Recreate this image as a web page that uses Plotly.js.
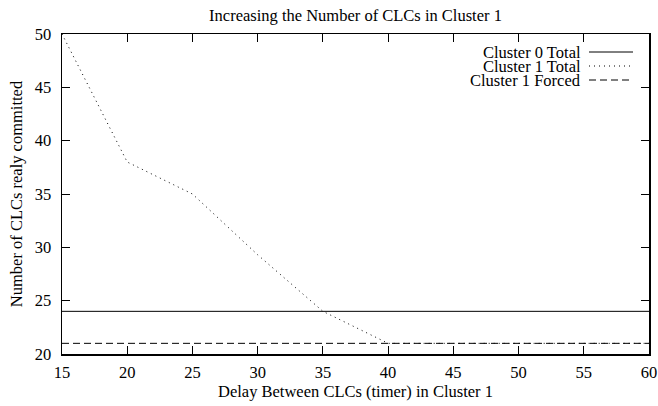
<!DOCTYPE html>
<html>
<head>
<meta charset="utf-8">
<script src="https://cdn.plot.ly/plotly-3.0.1.min.js"></script>
<style>html,body{margin:0;padding:0;background:#fff;}#chart{width:658px;height:406px;}</style>
</head>
<body>
<div id="chart"></div>
<script>
var delays = [15, 20, 25, 30, 35, 40, 45, 50, 55, 60];
var cluster0Total = [24, 24, 24, 24, 24, 24, 24, 24, 24, 24];
var cluster1Total = [50, 38, 35, 29.3, 24, 21, 21, 21, 21, 21];
var cluster1Forced = [21, 21, 21, 21, 21, 21, 21, 21, 21, 21];
var seriesNames = ["Cluster 0 Total", "Cluster 1 Total", "Cluster 1 Forced"];
var seriesDash = ["solid", "1px,4px", "7px,4px"];

var font = "'Liberation Serif', 'Times New Roman', serif";
var fs = 16.5;
var seriesValues = [cluster0Total, cluster1Total, cluster1Forced];
var traces = seriesValues.map(function (vals, i) {
  return {
    x: delays, y: vals, name: seriesNames[i], type: "scatter", mode: "lines",
    line: {color: "#000", width: 1, dash: seriesDash[i]}, showlegend: false
  };
});

var annotations = [];
var shapes = [];
var rowY = [52, 66, 80];
seriesNames.forEach(function (n, i) {
  annotations.push({
    xref: "paper", yref: "paper", x: (582 - 62) / 587, y: 1 - (rowY[i] - 34) / 320,
    xanchor: "right", yanchor: "middle", text: n, showarrow: false,
    font: {family: font, size: fs, color: "#000"}, borderpad: 0
  });
  shapes.push({
    type: "line", xref: "paper", yref: "paper",
    x0: (589 - 62) / 587, x1: (633 - 62) / 587,
    y0: 1 - (rowY[i] - 34) / 320, y1: 1 - (rowY[i] - 34) / 320,
    line: {color: "#000", width: 1, dash: seriesDash[i]}
  });
});

var layout = {
  width: 658, height: 406,
  margin: {l: 62, r: 9, t: 34, b: 52},
  paper_bgcolor: "#fff", plot_bgcolor: "#fff",
  font: {family: font, size: fs, color: "#000"},
  title: {text: "Increasing the Number of CLCs in Cluster 1", font: {family: font, size: fs, color: "#000"},
    xref: "paper", x: 0.5, xanchor: "center", yref: "container", y: 1 - 15 / 406, yanchor: "middle"},
  xaxis: {
    range: [15, 60], dtick: 5, tick0: 15, ticks: "inside", ticklen: 8, tickwidth: 1, tickcolor: "#000",
    showline: true, linecolor: "#000", linewidth: 1.5, mirror: "ticks", showgrid: false, zeroline: false,
    ticklabelstandoff: 3,
    tickfont: {family: font, size: fs, color: "#000"},
    title: {text: "Delay Between CLCs (timer) in Cluster 1", font: {family: font, size: fs, color: "#000"}, standoff: 2}
  },
  yaxis: {
    range: [20, 50], dtick: 5, tick0: 20, ticks: "inside", ticklen: 8, tickwidth: 1, tickcolor: "#000",
    showline: true, linecolor: "#000", linewidth: 1.5, mirror: "ticks", showgrid: false, zeroline: false,
    ticklabelstandoff: 6,
    tickfont: {family: font, size: fs, color: "#000"},
    title: {text: "Number of CLCs realy committed", font: {family: font, size: fs, color: "#000"}, standoff: 8}
  },
  annotations: annotations,
  shapes: shapes,
  showlegend: false
};

Plotly.newPlot("chart", traces, layout, {staticPlot: true, displayModeBar: false});
</script>
</body>
</html>
